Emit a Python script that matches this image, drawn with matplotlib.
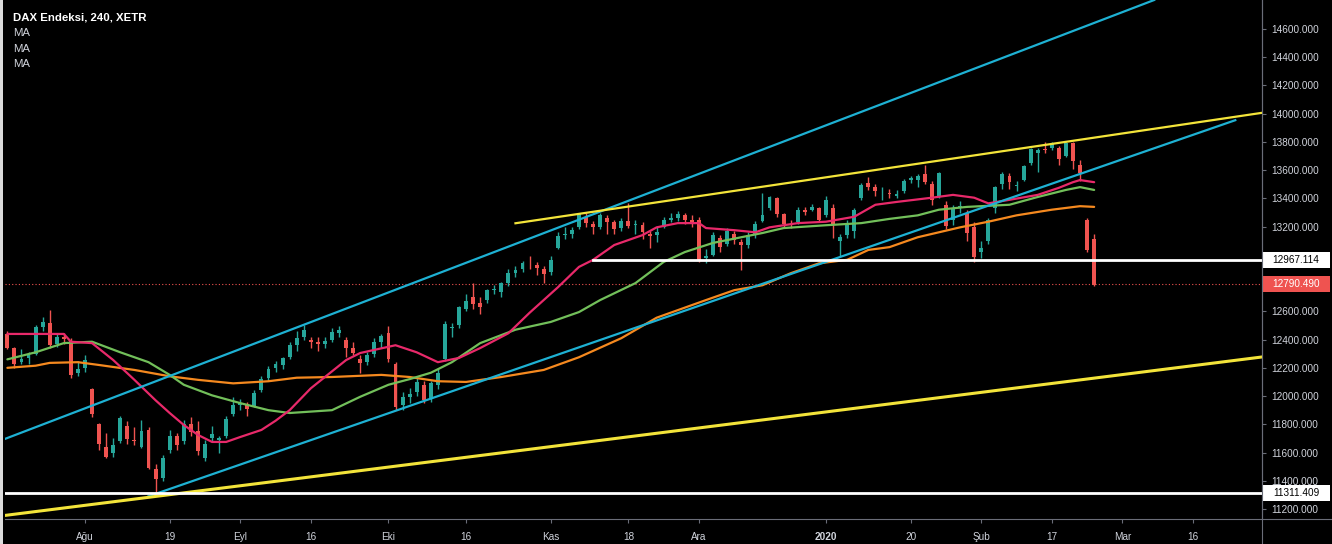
"""
DAX 4h-style candlestick chart with moving averages and hand drawn trend lines,
redrawn from a TradingView screenshot (values read off the picture, daily bars).
"""

from __future__ import annotations

import matplotlib

matplotlib.use("Agg")
import matplotlib.pyplot as plt
import matplotlib.transforms as mtransforms
import numpy as np
import pandas as pd
from matplotlib.lines import Line2D
from matplotlib.patches import Rectangle

W, H = 1332, 544

HOLIDAYS = ["2019-12-24", "2019-12-25", "2019-12-26", "2019-12-31", "2020-01-01",
            "2020-04-10", "2020-04-13"]

# daily OHLC, 2019-07-17 .. 2020-02-25 (one value per Xetra trading day)
opens = [
    12440, 12340, 12240, 12270, 12300, 12490, 12520, 12370, 12420, 12390, 12160,
    12200, 12050, 11800, 11640, 11600, 11680, 11790, 11690, 11640, 11760, 11480, 11420,
    11620, 11720, 11680, 11800, 11750, 11560, 11700, 11690, 11720, 11870,
    11940, 11940, 11930, 12040, 12130, 12200, 12220, 12280, 12360, 12420, 12400,
    12380, 12370, 12400, 12450, 12400, 12340, 12260, 12240, 12300, 12380,
    12450, 12230, 11940, 11990, 12030, 12080, 11980, 12080, 12260, 12480, 12500,
    12620, 12700, 12660, 12680, 12750, 12740, 12800, 12870, 12900, 12940, 12930, 12900,
    12880, 13050, 13140, 13150, 13200, 13270, 13220, 13200, 13260, 13230, 13190,
    13240, 13210, 13210, 13150, 13140, 13200, 13250, 13260, 13280, 13250,
    13250, 12980, 13000, 13120, 13080, 13150, 13090, 13070, 13140, 13240, 13330,
    13400, 13290, 13220, 13230, 13320, 13320, 13330,
    13280, 13330, 13100, 13140, 13170, 13400, 13510, 13480, 13450, 13440, 13420,
    13450, 13530, 13530, 13570, 13500, 13420, 13350, 13250, 13330, 13300, 13200,
    13020, 13100, 13330, 13500, 13560, 13490, 13530, 13650, 13720, 13750, 13760,
    13760, 13700, 13790, 13640, 13250, 13110,
]
highs = [
    12460, 12350, 12330, 12310, 12500, 12560, 12610, 12440, 12450, 12410, 12250,
    12290, 12060, 11810, 11740, 11700, 11860, 11820, 11780, 11830, 11780, 11520, 11580,
    11760, 11740, 11830, 11850, 11820, 11690, 11790, 11720, 11860, 11990,
    11980, 11960, 12040, 12140, 12210, 12250, 12280, 12380, 12460, 12500, 12420,
    12420, 12420, 12480, 12495, 12420, 12380, 12290, 12310, 12410, 12440,
    12495, 12240, 12030, 12060, 12130, 12110, 12110, 12200, 12530, 12520, 12640,
    12720, 12800, 12700, 12760, 12790, 12810, 12900, 12920, 12960, 12990, 12950, 12920,
    12990, 13160, 13200, 13200, 13300, 13300, 13240, 13300, 13280, 13250, 13260,
    13370, 13250, 13230, 13170, 13200, 13270, 13300, 13310, 13300, 13280,
    13270, 13040, 13160, 13140, 13190, 13170, 13110, 13160, 13240, 13440, 13420,
    13410, 13300, 13250, 13340, 13340, 13360, 13340,
    13420, 13360, 13150, 13250, 13330, 13510, 13550, 13500, 13480, 13470, 13460,
    13540, 13560, 13570, 13640, 13520, 13590, 13380, 13350, 13380, 13320, 13230,
    13100, 13260, 13490, 13590, 13580, 13520, 13640, 13760, 13760, 13800, 13800,
    13770, 13800, 13800, 13670, 13260, 13150,
]
lows = [
    12330, 12200, 12230, 12230, 12290, 12460, 12340, 12350, 12370, 12130, 12140,
    12170, 11850, 11620, 11560, 11570, 11670, 11660, 11650, 11630, 11480, 11311, 11400,
    11600, 11620, 11660, 11720, 11580, 11540, 11680, 11600, 11700, 11860,
    11900, 11860, 11920, 12030, 12110, 12170, 12190, 12260, 12320, 12400, 12340,
    12320, 12340, 12380, 12420, 12280, 12290, 12160, 12220, 12280, 12340,
    12240, 11900, 11900, 11950, 12000, 11950, 11960, 12050, 12250, 12420, 12480,
    12600, 12620, 12580, 12660, 12720, 12700, 12780, 12840, 12880, 12900, 12860, 12800,
    12860, 13040, 13110, 13120, 13180, 13200, 13150, 13180, 13150, 13150, 13170,
    13190, 13150, 13110, 13050, 13090, 13190, 13230, 13240, 13220, 13200,
    12950, 12940, 12990, 13020, 13060, 13080, 12895, 13050, 13120, 13230, 13320,
    13270, 13200, 13190, 13220, 13280, 13310, 13230,
    13270, 13120, 12990, 13120, 13120, 13390, 13460, 13420, 13390, 13400, 13400,
    13440, 13510, 13480, 13500, 13350, 13400, 13180, 13210, 13300, 13100, 12950,
    12980, 13080, 13300, 13470, 13470, 13450, 13520, 13640, 13590, 13720, 13740,
    13640, 13690, 13610, 13520, 13020, 12780,
]
closes = [
    12342, 12227, 12260, 12290, 12490, 12522, 12362, 12419, 12402, 12147, 12189,
    12253, 11872, 11658, 11567, 11650, 11845, 11693, 11679, 11750, 11492, 11412, 11562,
    11715, 11651, 11802, 11747, 11612, 11658, 11730, 11701, 11838, 11939,
    11953, 11910, 12025, 12120, 12192, 12226, 12268, 12359, 12410, 12469, 12380,
    12372, 12389, 12457, 12468, 12342, 12307, 12234, 12288, 12380, 12428,
    12263, 11925, 11990, 12012, 12097, 11970, 12094, 12164, 12511, 12486, 12630,
    12670, 12654, 12633, 12748, 12754, 12798, 12872, 12894, 12941, 12939, 12910, 12867,
    12961, 13136, 13148, 13179, 13289, 13228, 13198, 13283, 13230, 13180, 13242,
    13207, 13221, 13159, 13137, 13163, 13246, 13262, 13287, 13245, 13236,
    12964, 12989, 13140, 13055, 13167, 13105, 13071, 13141, 13222, 13283, 13407,
    13288, 13222, 13212, 13319, 13301, 13337, 13249,
    13386, 13219, 13127, 13227, 13320, 13495, 13483, 13452, 13456, 13432, 13429,
    13526, 13548, 13556, 13515, 13389, 13577, 13205, 13324, 13345, 13158, 12982,
    13046, 13250, 13479, 13575, 13514, 13494, 13627, 13749, 13745, 13744, 13784,
    13681, 13790, 13664, 13579, 13035, 12790,
]

# moving averages
ma_fast_dates = [
    "2019-07-17", "2019-07-29", "2019-07-30", "2019-08-02", "2019-08-07", "2019-08-12",
    "2019-08-15", "2019-08-19", "2019-08-21", "2019-08-23", "2019-08-27", "2019-08-29",
    "2019-09-02", "2019-09-05", "2019-09-09", "2019-09-11", "2019-09-16", "2019-09-18",
    "2019-09-23", "2019-09-25", "2019-10-02", "2019-10-07", "2019-10-10", "2019-10-15",
    "2019-10-18", "2019-10-24", "2019-10-29", "2019-11-04", "2019-11-07", "2019-11-11",
    "2019-11-14", "2019-11-20", "2019-11-22", "2019-11-27", "2019-12-02", "2019-12-03",
    "2019-12-09", "2019-12-12", "2019-12-16", "2019-12-20", "2020-01-02", "2020-01-08",
    "2020-01-13", "2020-01-16", "2020-01-23", "2020-01-28", "2020-01-31", "2020-02-04",
    "2020-02-07", "2020-02-13", "2020-02-18", "2020-02-20", "2020-02-21", "2020-02-25",
]
ma_fast = [
    12440, 12440, 12385, 12375, 12255, 12115,
    11970, 11880, 11795, 11725, 11675, 11675,
    11710, 11760, 11825, 11900, 12055, 12135,
    12255, 12305, 12360, 12310, 12240, 12270,
    12340, 12445, 12590, 12770, 12915, 12965,
    13070, 13140, 13195, 13225, 13225, 13190,
    13175, 13160, 13195, 13225, 13235, 13270,
    13355, 13375, 13405, 13425, 13405, 13365,
    13390, 13425, 13475, 13515, 13530, 13515,
]
ma_mid_dates = [
    "2019-07-17", "2019-07-23", "2019-07-29", "2019-08-02", "2019-08-08", "2019-08-14",
    "2019-08-19", "2019-08-21", "2019-08-27", "2019-09-02", "2019-09-06", "2019-09-11",
    "2019-09-19", "2019-09-25", "2019-10-01", "2019-10-04", "2019-10-09", "2019-10-14",
    "2019-10-18", "2019-10-25", "2019-11-01", "2019-11-07", "2019-11-12", "2019-11-19",
    "2019-11-25", "2019-11-28", "2019-12-04", "2019-12-10", "2019-12-13", "2019-12-18",
    "2020-01-02", "2020-01-09", "2020-01-15", "2020-01-21", "2020-01-24", "2020-01-30",
    "2020-02-07", "2020-02-13", "2020-02-19", "2020-02-21", "2020-02-25",
]
ma_mid = [
    12260, 12310, 12375, 12385, 12310, 12240,
    12150, 12080, 12005, 11950, 11900, 11880,
    11900, 11995, 12080, 12120, 12165, 12240,
    12375, 12470, 12525, 12595, 12680, 12800,
    12950, 13020, 13085, 13125, 13155, 13190,
    13210, 13225, 13255, 13280, 13320, 13340,
    13355, 13410, 13460, 13480, 13460,
]
ma_slow_dates = [
    "2019-07-17", "2019-07-23", "2019-07-25", "2019-07-31", "2019-08-05", "2019-08-12",
    "2019-08-19", "2019-08-23", "2019-08-30", "2019-09-06", "2019-09-12", "2019-09-19",
    "2019-09-30", "2019-10-04", "2019-10-10", "2019-10-16", "2019-10-23", "2019-10-31",
    "2019-11-07", "2019-11-15", "2019-11-22", "2019-12-03", "2019-12-09", "2019-12-13",
    "2019-12-19", "2019-12-30", "2020-01-07", "2020-01-10", "2020-01-15", "2020-01-21",
    "2020-01-29", "2020-02-04", "2020-02-10", "2020-02-17", "2020-02-21", "2020-02-25",
]
ma_slow = [
    12200, 12215, 12235, 12240, 12220, 12185,
    12140, 12115, 12090, 12105, 12130, 12135,
    12150, 12135, 12105, 12100, 12135, 12185,
    12275, 12410, 12555, 12680, 12750, 12785,
    12870, 12940, 12965, 13035, 13055, 13125,
    13195, 13235, 13280, 13320, 13345, 13340,
]

# hand drawn lines: (date, price) anchors
channel_upper = [("2019-08-15", 12104), ("2020-02-25", 14643)]
channel_lower = [("2019-08-14", 11290), ("2020-03-24", 13954)]
wedge_top = [("2019-10-25", 13224), ("2020-02-17", 13786)]
support_long = [("2019-08-01", 11226), ("2020-02-25", 12127)]
level_mid = 12967.114
level_mid_start = "2019-11-11"
level_low = 11311.409
last_price = 12790.490

price_ticks = [11200, 11400, 11600, 11800, 12000, 12200, 12400, 12600,
               13200, 13400, 13600, 13800, 14000, 14200, 14400, 14600]

tick_dates = ["2019-08-01", "2019-08-19", "2019-09-02", "2019-09-16", "2019-10-01",
              "2019-10-16", "2019-11-01", "2019-11-18", "2019-12-02", "2020-01-02",
              "2020-01-20", "2020-02-03", "2020-02-17", "2020-03-02", "2020-03-16"]
tick_labels = ["Ağu", "19", "Eyl", "16", "Eki", "16", "Kas", "18", "Ara", "2020",
               "20", "Şub", "17", "Mar", "16"]

UP = "#26a69a"
DOWN = "#ef5350"
CYAN = "#1eb1d3"
YELLOW = "#f3e43a"
TEXT = "#d1d4dc"
GRID = "#6a6d78"
FONT = ["Liberation Sans", "DejaVu Sans"]


def trading_days() -> dict[str, int]:
    days = [d for d in pd.bdate_range("2019-07-17", "2020-04-30")
            if d.strftime("%Y-%m-%d") not in HOLIDAYS]
    return {d.strftime("%Y-%m-%d"): i for i, d in enumerate(days)}


def main() -> None:
    plt.rcParams["font.family"] = FONT
    pos = trading_days()

    fig = plt.figure(figsize=(W / 100, H / 100), dpi=100, facecolor="black")
    ax = fig.add_axes([5 / W, 25 / H, 1257 / W, 519 / H], facecolor="black")

    # price axis: 14600 at y=29px, 11200 at y=509px
    per_px = 3400 / 480
    ax.set_ylim(14600 - 490 * per_px, 14600 + 29 * per_px)
    # time axis: Aug 1 at x=85px, 7.057px per trading day
    x0 = pos["2019-08-01"]
    ax.set_xlim(x0 + (5 - 85) / 7.057, x0 + (1262 - 85) / 7.057)
    xmin, xmax = ax.get_xlim()

    # candles
    o, h, l, c = (np.array(v, dtype=float) for v in (opens, highs, lows, closes))
    x = np.arange(len(c))
    colors = np.where(c >= o, UP, DOWN)
    ax.vlines(x, l, h, colors=colors, linewidth=1.0, zorder=3)
    body = np.maximum(np.abs(c - o), 6)
    ax.bar(x, body, bottom=np.minimum(o, c), width=0.55, color=colors,
           linewidth=0, zorder=3)

    # moving averages
    for dates, values, color in ((ma_slow_dates, ma_slow, "#f5891f"),
                                 (ma_mid_dates, ma_mid, "#72bf5a"),
                                 (ma_fast_dates, ma_fast, "#e8296a")):
        ax.plot([pos[d] for d in dates], values, color=color, linewidth=1.6,
                solid_joinstyle="round", solid_capstyle="round", zorder=4)

    # trend lines
    (d1, p1), (d2, p2) = channel_upper
    ax.axline((pos[d1], p1), (pos[d2], p2), color=CYAN, linewidth=1.6, zorder=5)
    (d1, p1), (d2, p2) = channel_lower
    ax.plot([pos[d1], pos[d2]], [p1, p2], color=CYAN, linewidth=1.6, zorder=5)
    (d1, p1), (d2, p2) = support_long
    ax.axline((pos[d1], p1), (pos[d2], p2), color=YELLOW, linewidth=2.2, zorder=5)
    (d1, p1), (d2, p2) = wedge_top
    slope = (p2 - p1) / (pos[d2] - pos[d1])
    ax.plot([pos[d1], xmax], [p1, p1 + slope * (xmax - pos[d1])], color=YELLOW,
            linewidth=1.6, zorder=5)

    ax.plot([pos[level_mid_start], xmax], [level_mid, level_mid], color="white",
            linewidth=2.0, zorder=5)
    ax.axhline(level_low, color="white", linewidth=2.0, zorder=5)
    ax.axhline(last_price, color=DOWN, linewidth=0.8, linestyle=(0, (1, 2)), zorder=2)

    # axes styling
    for side in ("top", "left"):
        ax.spines[side].set_visible(False)
    for side in ("right", "bottom"):
        ax.spines[side].set_color(GRID)
        ax.spines[side].set_linewidth(0.8)
    ax.yaxis.tick_right()
    ax.set_yticks(price_ticks)
    ax.set_yticklabels([f"{v:.3f}" for v in price_ticks])
    ax.set_xticks([pos[d] for d in tick_dates])
    ax.set_xticklabels(tick_labels)
    for label in ax.get_xticklabels():
        if label.get_text() == "2020":
            label.set_fontweight("bold")
    ax.tick_params(axis="both", colors=GRID, labelcolor=TEXT, labelsize=7.2,
                   length=3, width=0.8)
    ax.tick_params(axis="x", pad=6)
    ax.tick_params(axis="y", pad=4)

    # scale separators continue through the label areas
    fig.add_artist(Line2D([1262 / W, 1262 / W], [0, 1], transform=fig.transFigure,
                          color=GRID, linewidth=0.8))
    fig.add_artist(Line2D([1262 / W, 1], [25 / H, 25 / H], transform=fig.transFigure,
                          color=GRID, linewidth=0.8))

    # price tags on the right scale
    tag = mtransforms.blended_transform_factory(fig.transFigure, ax.transData)
    for value, face, fg in ((level_mid, "white", "black"),
                            (last_price, DOWN, "white"),
                            (level_low, "white", "black")):
        ax.add_patch(Rectangle((1263 / W, value - 8 * per_px), 67 / W, 16 * per_px,
                               transform=tag, facecolor=face, edgecolor="none",
                               clip_on=False, zorder=6))
        ax.text(1296 / W, value, f"{value:.3f}", transform=tag, ha="center",
                va="center", fontsize=7.2, color=fg, zorder=7, clip_on=False)

    # legend block
    fig.text(13 / W, 1 - 18 / H, "DAX Endeksi, 240, XETR", color="white",
             fontsize=8.2, fontweight="bold", va="center")
    for i in range(3):
        fig.text(13 / W, 1 - (33 + 15.5 * i) / H, "MA", color=TEXT, fontsize=8.2,
                 va="center")

    fig.add_artist(Rectangle((0, 0), 3 / W, 1, transform=fig.transFigure,
                             facecolor="#dcdcdc", edgecolor="none"))

    fig.savefig("out.png", dpi=100, facecolor="black")


if __name__ == "__main__":
    main()
